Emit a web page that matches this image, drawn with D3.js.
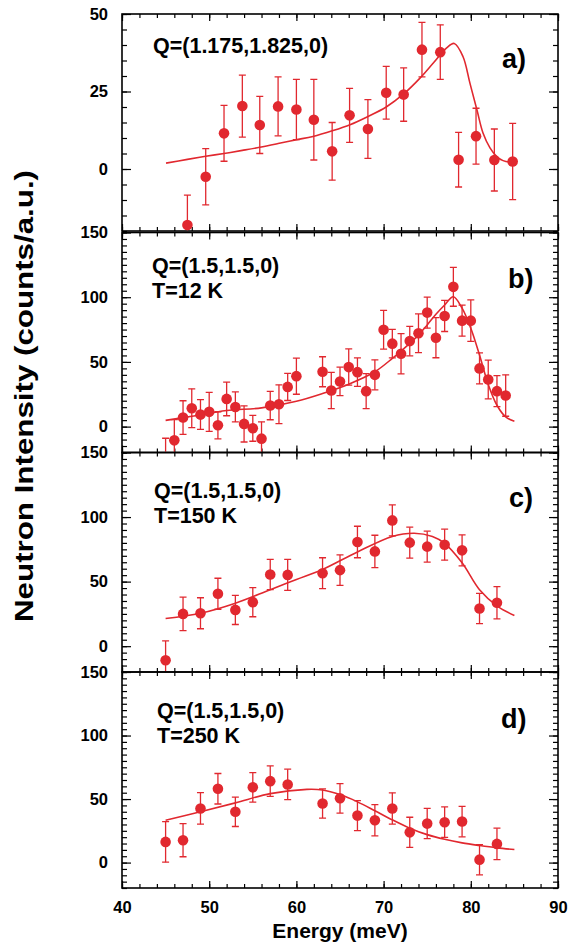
<!DOCTYPE html>
<html><head><meta charset="utf-8">
<script src="https://cdn.jsdelivr.net/npm/d3@7"></script>
<style>
html,body{margin:0;padding:0;background:#fff;}
text{font-family:"Liberation Sans",Arial,Helvetica,sans-serif;font-weight:bold;fill:#000;}
</style></head>
<body>
<svg id="chart" width="571" height="947"></svg>
<script>
// ---------- DATA ----------
const xTicks = [40, 50, 60, 70, 80, 90];
const yTicksA = [0, 25, 50];
const yTicksBCD = [0, 50, 100, 150];

const energyA = [47.5, 49.6, 51.7, 53.8, 55.8, 57.9, 60.0, 62.0, 64.1, 66.1, 68.2, 70.3, 72.3, 74.4, 76.5, 78.6, 80.6, 82.7, 84.8];
const intensityA = [-18.1, -2.5, 11.5, 20.3, 14.2, 20.2, 19.2, 15.9, 5.7, 17.3, 12.9, 24.6, 24.0, 38.5, 37.7, 3.0, 10.6, 2.9, 2.4];
const errorA = [9.7, 9.1, 9.0, 10.0, 9.2, 9.5, 9.7, 13.0, 9.3, 8.7, 9.5, 8.5, 8.6, 8.8, 8.8, 8.8, 9.0, 10.0, 12.3];
const fitEnergyA = [45.05, 47.5, 49.6, 51.7, 53.8, 55.8, 57.9, 59.9, 61.9, 64.2, 66.15, 68.1, 70.3, 72.3, 74.2, 75.7, 77.2, 78.1, 79.1, 79.9, 80.7, 81.4, 82.2, 82.95, 83.7, 84.8];
const fitA = [1.9, 3.1, 4.1, 5.0, 6.0, 7.0, 8.2, 9.4, 10.5, 12.4, 14.3, 16.8, 20.0, 24.2, 29.4, 34.2, 39.0, 40.5, 36.3, 27.7, 19.1, 11.6, 6.8, 4.1, 2.7, 2.1];

const energyB = [45, 46, 47, 48, 49, 50, 51, 52, 53, 54, 55, 56, 57, 58, 59, 60, 63, 64, 65, 66, 67, 68, 69, 70, 71, 72, 73, 74, 75, 76, 77, 78, 79, 80, 81, 82, 83, 84];
const intensityB = [-25, -10.6, 7.0, 14.2, 9.3, 11.4, 1.0, 21.4, 15.2, 2.1, -1.3, -9.3, 16.3, 17.3, 30.7, 39.0, 42.4, 27.9, 34.9, 46.0, 42.1, 27.4, 40.0, 74.9, 64.1, 56.3, 66.1, 72.1, 88.1, 68.7, 85.5, 108.0, 81.9, 81.9, 45.0, 36.4, 27.4, 24.0];
const errorB = [16, 16, 13, 15, 11.5, 15, 10.5, 13, 11.6, 14, 10, 13, 11, 15, 10.5, 14, 11.6, 14, 11, 14, 11, 13.5, 11.6, 15, 11, 15.6, 11.4, 15, 12, 15.5, 12, 15, 12, 16, 12, 15, 12, 16];
const fitEnergyB = [45, 48, 52, 56, 60, 63, 66, 69, 71, 72, 73, 74, 75, 76, 77, 78, 79, 80, 81, 82, 83, 84, 85];
const fitB = [4.8, 8.0, 12.4, 14.5, 19.6, 25.6, 32.8, 42.4, 52.7, 58.4, 64.3, 70.8, 78.6, 86.8, 94.0, 100.3, 91.5, 76.0, 55.3, 32.6, 16.5, 7.5, 4.1];

const energyC = [45, 47, 49, 51, 53, 55, 57, 59, 63, 65, 67, 69, 71, 73, 75, 77, 79, 81, 83];
const intensityC = [-10.9, 25.0, 25.5, 40.6, 28.1, 34.1, 55.5, 55.2, 56.5, 58.9, 80.7, 73.4, 97.4, 80.2, 77.1, 78.6, 74.2, 29.2, 33.6];
const errorC = [15, 13, 12, 12, 11.3, 11.3, 11.7, 12, 12, 11.8, 12.2, 12.5, 12, 12, 12, 12, 12, 11.7, 12.5];
const fitEnergyC = [45, 49, 53, 57, 60, 63, 67, 71, 73.5, 75.6, 77, 79, 81, 83, 85];
const fitC = [21.4, 25.5, 33.3, 43.75, 51.6, 59.4, 73.0, 85.0, 87.5, 85.0, 79.7, 64.6, 43.75, 31.25, 23.7];

const energyD = [45, 47, 49, 51, 53, 55, 57, 59, 63, 65, 67, 69, 71, 73, 75, 77, 79, 81, 83];
const intensityD = [16.3, 17.6, 42.6, 58.1, 40.0, 59.2, 64.1, 61.5, 46.5, 50.6, 37.0, 33.3, 42.6, 23.8, 30.7, 31.8, 32.3, 2.3, 14.7];
const errorD = [16, 13, 12.4, 12, 11.6, 11.6, 12, 12, 11.5, 11.6, 11.8, 12.3, 12.3, 11.9, 11.9, 12, 12, 11.9, 12.4];
const fitEnergyD = [45, 49, 53, 57, 61.2, 63, 65, 67, 69, 71, 73, 75, 77, 79, 81, 83, 85];
const fitD = [33.3, 40.0, 47.0, 54.3, 57.6, 57.1, 53.5, 47.8, 40.8, 33.6, 27.1, 22.0, 18.3, 15.5, 13.4, 11.6, 10.3];

const labelsA = ["Q=(1.175,1.825,0)"];
const labelsB = ["Q=(1.5,1.5,0)", "T=12 K"];
const labelsC = ["Q=(1.5,1.5,0)", "T=150 K"];
const labelsD = ["Q=(1.5,1.5,0)", "T=250 K"];
const letters = ["a)", "b)", "c)", "d)"];
const xTitle = "Energy (meV)";
const yTitle = "Neutron Intensity (counts/a.u.)";

// ---------- LAYOUT ----------
const RED = "#e1282f";
const X0 = 122, X1 = 558;
const svg = d3.select("#chart");
const x = d3.scaleLinear().domain([40, 90]).range([X0, X1]);

const panels = [
  {top: 14, bottom: 231, dom: [-20, 50], major: yTicksA, minorStep: 5,
   E: energyA, I: intensityA, S: errorA, fE: fitEnergyA, fI: fitA,
   labels: labelsA, lx: 153, ly: 53, letter: letters[0], tx: 502, ty: 68},
  {top: 232.5, bottom: 452.5, dom: [-20, 150], major: yTicksBCD, minorStep: 5,
   E: energyB, I: intensityB, S: errorB, fE: fitEnergyB, fI: fitB,
   labels: labelsB, lx: 152, ly: 273, letter: letters[1], tx: 508, ty: 288},
  {top: 452.5, bottom: 672, dom: [-20, 150], major: yTicksBCD, minorStep: 5,
   E: energyC, I: intensityC, S: errorC, fE: fitEnergyC, fI: fitC,
   labels: labelsC, lx: 154, ly: 498, letter: letters[2], tx: 509, ty: 507},
  {top: 672, bottom: 888, dom: [-20, 150], major: yTicksBCD, minorStep: 5,
   E: energyD, I: intensityD, S: errorD, fE: fitEnergyD, fI: fitD,
   labels: labelsD, lx: 157, ly: 718, letter: letters[3], tx: 501, ty: 728}
];

const defs = svg.append("defs");
const xMinor = d3.range(40, 90.01, 2);

panels.forEach((p, i) => {
  const y = d3.scaleLinear().domain(p.dom).range([p.bottom, p.top]);
  const g = svg.append("g");
  const yMinor = d3.range(p.dom[0], p.dom[1] + 0.01, p.minorStep);

  const tickStyle = sel => { sel.select(".domain").remove(); sel.selectAll("line").attr("stroke", "#000").attr("stroke-width", 1.2); };
  const labelStyle = sel => sel.selectAll("text").attr("font-size", 16.5).attr("fill", "#000")
    .style("font-family", '"Liberation Sans",Arial,sans-serif').style("font-weight", "bold");

  // minor ticks
  g.append("g").attr("transform", `translate(${X0},0)`)
    .call(d3.axisLeft(y).tickValues(yMinor).tickSize(-5).tickFormat("")).call(tickStyle);
  g.append("g").attr("transform", `translate(${X1},0)`)
    .call(d3.axisRight(y).tickValues(yMinor).tickSize(-5).tickFormat("")).call(tickStyle);
  g.append("g").attr("transform", `translate(0,${p.top})`)
    .call(d3.axisTop(x).tickValues(xMinor).tickSize(-4).tickFormat("")).call(tickStyle);
  g.append("g").attr("transform", `translate(0,${p.bottom})`)
    .call(d3.axisBottom(x).tickValues(xMinor).tickSize(-4).tickFormat("")).call(tickStyle);

  // major ticks
  const yl = g.append("g").attr("transform", `translate(${X0},0)`)
    .call(d3.axisLeft(y).tickValues(p.major).tickSize(-9).tickPadding(14).tickFormat(d3.format("d")));
  yl.call(tickStyle); yl.call(labelStyle);
  g.append("g").attr("transform", `translate(${X1},0)`)
    .call(d3.axisRight(y).tickValues(p.major).tickSize(-9).tickFormat("")).call(tickStyle);
  g.append("g").attr("transform", `translate(0,${p.top})`)
    .call(d3.axisTop(x).tickValues(xTicks).tickSize(-7).tickFormat("")).call(tickStyle);
  const xb = g.append("g").attr("transform", `translate(0,${p.bottom})`)
    .call(d3.axisBottom(x).tickValues(xTicks).tickSize(-7).tickPadding(13)
      .tickFormat(i === panels.length - 1 ? d3.format("d") : ""));
  xb.call(tickStyle); xb.call(labelStyle);

  // frame
  g.append("rect").attr("x", X0).attr("y", p.top).attr("width", X1 - X0).attr("height", p.bottom - p.top)
    .attr("fill", "none").attr("stroke", "#000").attr("stroke-width", 1.6);

  // clip
  const cid = "clip" + i;
  defs.append("clipPath").attr("id", cid).append("rect")
    .attr("x", X0).attr("y", p.top + 0.8).attr("width", X1 - X0).attr("height", p.bottom - p.top - 1.6);
  const pg = g.append("g").attr("clip-path", `url(#${cid})`);

  // fit line
  const line = d3.line().x((d, k) => x(p.fE[k])).y((d, k) => y(p.fI[k])).curve(d3.curveCatmullRom.alpha(0.5));
  pg.append("path").datum(p.fI).attr("d", line).attr("fill", "none").attr("stroke", RED).attr("stroke-width", 1.6);

  // error bars
  const pts = p.E.map((e, k) => ({e, v: p.I[k], s: p.S[k]}));
  const eb = pg.append("g").attr("stroke", RED).attr("stroke-width", 1.3);
  eb.selectAll("line.v").data(pts).join("line").attr("class", "v")
    .attr("x1", d => x(d.e)).attr("x2", d => x(d.e)).attr("y1", d => y(d.v - d.s)).attr("y2", d => y(d.v + d.s));
  eb.selectAll("line.t").data(pts).join("line").attr("class", "t")
    .attr("x1", d => x(d.e) - 3.5).attr("x2", d => x(d.e) + 3.5).attr("y1", d => y(d.v + d.s)).attr("y2", d => y(d.v + d.s));
  eb.selectAll("line.b").data(pts).join("line").attr("class", "b")
    .attr("x1", d => x(d.e) - 3.5).attr("x2", d => x(d.e) + 3.5).attr("y1", d => y(d.v - d.s)).attr("y2", d => y(d.v - d.s));
  // markers
  pg.selectAll("circle").data(pts).join("circle")
    .attr("cx", d => x(d.e)).attr("cy", d => y(d.v)).attr("r", 5.3).attr("fill", RED);

  // annotations
  p.labels.forEach((t, k) => {
    g.append("text").attr("x", p.lx).attr("y", p.ly + k * 25).attr("font-size", 21.5).text(t);
  });
  g.append("text").attr("x", p.tx).attr("y", p.ty).attr("font-size", 27).text(p.letter);
});

// axis titles
svg.append("text").attr("x", 340).attr("y", 938).attr("text-anchor", "middle").attr("font-size", 21).text(xTitle);
svg.append("text").attr("transform", "translate(33,396) rotate(-90)").attr("text-anchor", "middle")
  .attr("font-size", 25.5).attr("textLength", 452).attr("lengthAdjust", "spacingAndGlyphs").text(yTitle);
</script>
</body></html>
